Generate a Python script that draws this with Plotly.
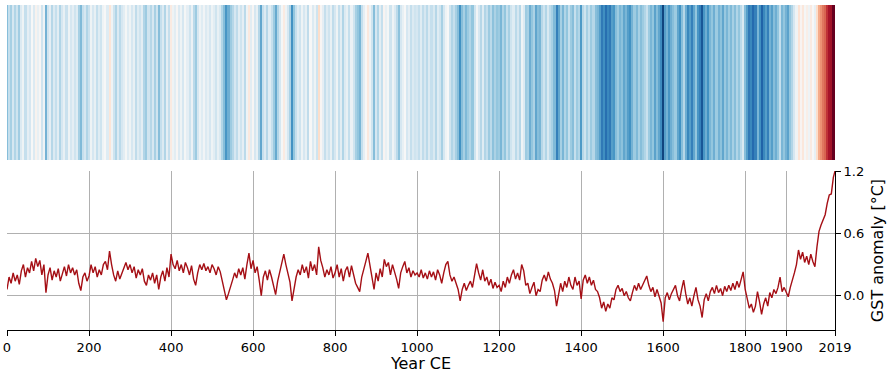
import plotly.graph_objects as go

# GST anomaly [°C], 5-year steps (one list per century)
gst_0000 = [0.06, 0.18, 0.12, 0.22, 0.14, 0.20, 0.11, 0.24, 0.30, 0.18, 0.27, 0.22, 0.33, 0.24, 0.36, 0.28, 0.34, 0.20, 0.30, 0.03]
gst_0100 = [0.20, 0.27, 0.15, 0.24, 0.18, 0.26, 0.14, 0.22, 0.28, 0.19, 0.30, 0.22, 0.27, 0.20, 0.25, 0.12, 0.05, 0.18, 0.22, 0.14]
gst_0200 = [0.19, 0.30, 0.22, 0.28, 0.18, 0.25, 0.20, 0.30, 0.33, 0.25, 0.43, 0.30, 0.20, 0.14, 0.24, 0.16, 0.22, 0.26, 0.32, 0.25]
gst_0300 = [0.30, 0.22, 0.28, 0.17, 0.25, 0.20, 0.26, 0.14, 0.10, 0.20, 0.15, 0.22, 0.12, 0.20, 0.06, 0.18, 0.24, 0.14, 0.27, 0.18]
gst_0400 = [0.40, 0.30, 0.26, 0.34, 0.24, 0.30, 0.22, 0.32, 0.27, 0.20, 0.29, 0.16, 0.10, 0.22, 0.30, 0.25, 0.31, 0.24, 0.28, 0.22]
gst_0500 = [0.30, 0.26, 0.20, 0.28, 0.23, 0.14, 0.06, -0.04, 0.02, 0.10, 0.15, 0.22, 0.17, 0.26, 0.20, 0.27, 0.16, 0.30, 0.41, 0.26]
gst_0600 = [0.34, 0.22, 0.28, 0.15, 0.00, 0.18, 0.24, 0.15, 0.25, 0.18, 0.10, 0.01, 0.14, 0.22, 0.32, 0.40, 0.30, 0.22, 0.13, -0.05]
gst_0700 = [0.08, 0.18, 0.25, 0.20, 0.30, 0.22, 0.28, 0.17, 0.33, 0.24, 0.30, 0.20, 0.47, 0.34, 0.27, 0.18, 0.25, 0.20, 0.28, 0.17]
gst_0800 = [0.22, 0.30, 0.18, 0.26, 0.14, 0.24, 0.28, 0.18, 0.29, 0.20, 0.12, 0.08, 0.04, 0.18, 0.27, 0.33, 0.41, 0.30, 0.20, 0.06]
gst_0900 = [0.22, 0.14, 0.26, 0.18, 0.35, 0.28, 0.32, 0.20, 0.30, 0.24, 0.16, 0.07, 0.22, 0.28, 0.33, 0.22, 0.27, 0.18, 0.24, 0.20]
gst_1000 = [0.22, 0.18, 0.25, 0.17, 0.22, 0.16, 0.24, 0.18, 0.23, 0.15, 0.25, 0.20, 0.12, 0.22, 0.30, 0.33, 0.20, 0.14, 0.18, 0.12]
gst_1100 = [0.06, -0.05, 0.06, 0.12, 0.05, 0.10, 0.14, 0.08, 0.20, 0.31, 0.22, 0.15, 0.25, 0.14, 0.18, 0.10, 0.16, 0.07, 0.13, 0.08]
gst_1200 = [0.10, 0.04, 0.14, 0.08, 0.18, 0.12, 0.20, 0.25, 0.16, 0.22, 0.15, 0.30, 0.24, 0.10, 0.12, 0.02, 0.08, 0.13, 0.00, 0.06]
gst_1300 = [0.04, 0.15, 0.20, 0.14, 0.23, 0.16, 0.12, 0.05, -0.10, 0.00, 0.12, 0.04, 0.14, 0.08, 0.18, 0.10, 0.06, 0.18, 0.10, 0.14]
gst_1400 = [-0.03, 0.15, 0.20, 0.12, 0.18, 0.10, 0.15, 0.06, 0.04, -0.02, -0.12, -0.06, -0.15, -0.08, -0.12, -0.02, -0.04, 0.06, 0.10, 0.04]
gst_1500 = [0.07, 0.00, 0.04, -0.02, -0.05, 0.03, 0.10, 0.05, 0.12, 0.06, 0.10, 0.14, 0.19, 0.10, 0.04, 0.08, -0.01, 0.06, 0.00, -0.07]
gst_1600 = [-0.25, -0.02, 0.03, -0.04, 0.02, 0.06, 0.10, 0.00, -0.05, 0.06, 0.15, 0.02, -0.08, -0.02, -0.10, 0.00, 0.08, -0.04, -0.10, -0.21]
gst_1700 = [-0.04, 0.02, -0.05, 0.04, 0.08, 0.02, 0.10, 0.03, 0.07, 0.00, 0.09, 0.04, 0.10, 0.05, 0.12, 0.06, 0.14, 0.08, 0.16, 0.23]
gst_1800 = [0.06, -0.02, -0.12, -0.08, -0.16, -0.10, 0.04, -0.06, -0.18, -0.08, -0.02, -0.10, 0.03, -0.02, 0.06, 0.02, 0.08, 0.18, 0.04, 0.08]
gst_1900 = [0.03, -0.01, 0.08, 0.14, 0.22, 0.30, 0.44, 0.35, 0.42, 0.32, 0.38, 0.30, 0.40, 0.33, 0.28, 0.47, 0.62, 0.68, 0.74, 0.78]
gst_2000 = [0.89, 0.97, 0.98, 1.14, 1.20]

years = list(range(0, 2016, 5)) + [2019]
gst = (gst_0000 + gst_0100 + gst_0200 + gst_0300 + gst_0400 + gst_0500 + gst_0600
       + gst_0700 + gst_0800 + gst_0900 + gst_1000 + gst_1100 + gst_1200 + gst_1300
       + gst_1400 + gst_1500 + gst_1600 + gst_1700 + gst_1800 + gst_1900 + gst_2000)

x_tickvals = [0, 200, 400, 600, 800, 1000, 1200, 1400, 1600, 1800, 1900, 2019]
x_ticktext = ["0", "200", "400", "600", "800", "1000", "1200", "1400", "1600", "1800", "1900", "2019"]
y_tickvals = [0.0, 0.6, 1.2]
y_ticktext = ["0.0", "0.6", "1.2"]

# RdBu_r with the white point shifted (blue half compressed, red half stretched)
blues = ["#053061", "#2166ac", "#4393c3", "#92c5de", "#d1e5f0", "#f7f7f7"]
reds = ["#fddbc7", "#f4a582", "#d6604d", "#b2182b", "#67001f"]
z_lo, z_mid, z_hi = -0.30, 0.33, 1.10
p_mid = (z_mid - z_lo) / (z_hi - z_lo)
colorscale = [[p_mid * i / 5, c] for i, c in enumerate(blues)]
colorscale += [[p_mid + (1 - p_mid) * (i + 1) / 5, c] for i, c in enumerate(reds)]
colorscale[-1][0] = 1.0

fig = go.Figure()
fig.add_trace(go.Heatmap(x=years, y=[0], z=[gst], colorscale=colorscale,
                         zmin=z_lo, zmax=z_hi, showscale=False,
                         xaxis="x2", yaxis="y2", hoverinfo="skip"))
fig.add_trace(go.Scatter(x=years, y=gst, mode="lines",
                         line=dict(color="#a50f15", width=1.4),
                         xaxis="x", yaxis="y", showlegend=False))

fig.update_layout(
    width=887, height=373,
    margin=dict(l=7, r=52, t=5, b=43),
    paper_bgcolor="white", plot_bgcolor="white",
    font=dict(family="DejaVu Sans", size=13, color="black"),
    showlegend=False,
    xaxis=dict(domain=[0, 1], range=[0, 2019], anchor="y",
               tickvals=x_tickvals, ticktext=x_ticktext,
               showgrid=True, gridcolor="#b0b0b0", gridwidth=1,
               showline=True, linecolor="black", linewidth=1,
               ticks="outside", ticklen=5, tickcolor="black",
               zeroline=False, automargin=False,
               title=dict(text="Year CE", standoff=3)),
    yaxis=dict(domain=[0, 0.489], range=[-0.33, 1.2], anchor="x", side="right",
               tickvals=y_tickvals, ticktext=y_ticktext,
               showgrid=True, gridcolor="#b0b0b0", gridwidth=1,
               showline=True, linecolor="black", linewidth=1,
               ticks="outside", ticklen=5, tickcolor="black",
               zeroline=False, automargin=False,
               title=dict(text="GST anomaly [°C]", standoff=9)),
    xaxis2=dict(domain=[0, 1], range=[0, 2019], anchor="y2", visible=False),
    yaxis2=dict(domain=[0.523, 1], range=[-0.5, 0.5], anchor="x2", visible=False),
)

fig.write_html("out.html")
